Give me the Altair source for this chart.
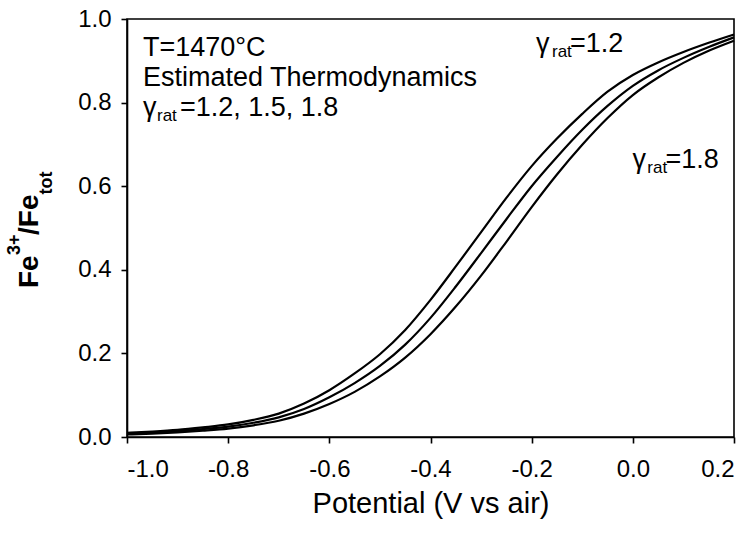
import altair as alt
import pandas as pd

# Data
potential = [-1.0, -0.95, -0.9, -0.85, -0.8, -0.75, -0.7, -0.65, -0.6, -0.55, -0.5, -0.45,
             -0.4, -0.35, -0.3, -0.25, -0.2, -0.15, -0.1, -0.05, 0.0, 0.05, 0.1, 0.15, 0.2]
ratio_12 = [0.010, 0.013, 0.017, 0.023, 0.030, 0.041, 0.056, 0.080, 0.112, 0.152, 0.198, 0.256,
            0.328, 0.408, 0.490, 0.572, 0.648, 0.714, 0.773, 0.826, 0.866, 0.896, 0.921, 0.943, 0.963]
ratio_15 = [0.008, 0.011, 0.014, 0.019, 0.025, 0.034, 0.047, 0.067, 0.095, 0.129, 0.170, 0.221,
            0.285, 0.360, 0.440, 0.521, 0.600, 0.670, 0.735, 0.792, 0.840, 0.877, 0.907, 0.933, 0.956]
ratio_18 = [0.006, 0.008, 0.011, 0.015, 0.020, 0.028, 0.039, 0.056, 0.079, 0.108, 0.145, 0.190,
            0.246, 0.312, 0.386, 0.467, 0.550, 0.628, 0.699, 0.763, 0.818, 0.860, 0.895, 0.924, 0.948]
series_names = ["1.2", "1.5", "1.8"]
x_ticks = [-1.0, -0.8, -0.6, -0.4, -0.2, 0.0, 0.2]
y_ticks = [0.0, 0.2, 0.4, 0.6, 0.8, 1.0]

FONT = "Liberation Sans"

rows = []
for name, vals in zip(series_names, [ratio_12, ratio_15, ratio_18]):
    for xv, yv in zip(potential, vals):
        rows.append({"x": xv, "y": yv, "g": name})
df = pd.DataFrame(rows)

xscale = alt.Scale(domain=[-1.0, 0.2], nice=False, zero=False)
yscale = alt.Scale(domain=[0.0, 1.0], nice=False, zero=False)

lines = alt.Chart(df).mark_line(color="black", strokeWidth=2.2, interpolate="monotone").encode(
    x=alt.X("x:Q", scale=xscale,
            axis=alt.Axis(title="Potential (V vs air)", values=x_ticks, format=".1f",
                          labelExpr="replace(datum.label, '\u2212', '-')")),
    y=alt.Y("y:Q", scale=yscale,
            axis=alt.Axis(title=None, values=y_ticks, format=".1f")),
    detail="g:N",
)

# In-plot annotations (data coordinates)
ann_main = pd.DataFrame({
    "x": [-0.9684, -0.9684],
    "y": [0.931, 0.859],
    "t": ["T=1470°C", "Estimated Thermodynamics"],
})
ann_gamma = pd.DataFrame({"x": [-0.9684, -0.1913, -0.0009], "y": [0.787, 0.940, 0.663], "t": ["γ", "γ", "γ"]})
ann_sub = pd.DataFrame({"x": [-0.9407, -0.1598, 0.0287], "y": [0.768, 0.921, 0.644], "t": ["rat", "rat", "rat"]})
ann_val = pd.DataFrame({"x": [-0.8952, -0.1241, 0.0644], "y": [0.787, 0.940, 0.663],
                        "t": ["=1.2, 1.5, 1.8", "=1.2", "=1.8"]})

def txt(d, size):
    return alt.Chart(d).mark_text(align="left", baseline="middle", font=FONT,
                                  fontSize=size, color="black").encode(
        x=alt.X("x:Q", scale=xscale), y=alt.Y("y:Q", scale=yscale), text="t:N")

annotations = txt(ann_main, 27) + txt(ann_gamma, 27) + txt(ann_sub, 17) + txt(ann_val, 27)

# Rotated y-axis title: Fe^{3+}/Fe_{tot}
ytitle_parts = [
    ("Fe", 28, -97, 269),
    ("3+", 18, -112, 236),
    ("/Fe", 28, -97, 216),
    ("tot", 18, -80, 175.5),
]
ytitle_layers = []
for t, size, px, py in ytitle_parts:
    ytitle_layers.append(
        alt.Chart(pd.DataFrame({"t": [t]})).mark_text(
            align="left", baseline="middle", angle=270, font=FONT, fontSize=size,
            fontWeight="bold", color="black").encode(
            x=alt.value(px), y=alt.value(py), text="t:N")
    )

chart = alt.layer(lines, annotations, *ytitle_layers).properties(
    width=607, height=418,
    autosize=alt.AutoSizeParams(type="none"),
    padding={"left": 127, "top": 19, "right": 20, "bottom": 102},
).configure_view(
    stroke="black", strokeWidth=1.6
).configure_axis(
    domainColor="black", domainWidth=1.6, tickColor="black", tickWidth=1.6, tickSize=6,
    grid=False, labelFont=FONT, labelFontSize=24, labelColor="black",
    titleFont=FONT, titleFontSize=29, titleFontWeight="normal", titleColor="black",
).configure_axisX(
    labelPadding=14, titlePadding=8
).configure_axisY(
    labelPadding=10
)

chart.save("out.html", embed_options={"renderer": "svg", "actions": False})
